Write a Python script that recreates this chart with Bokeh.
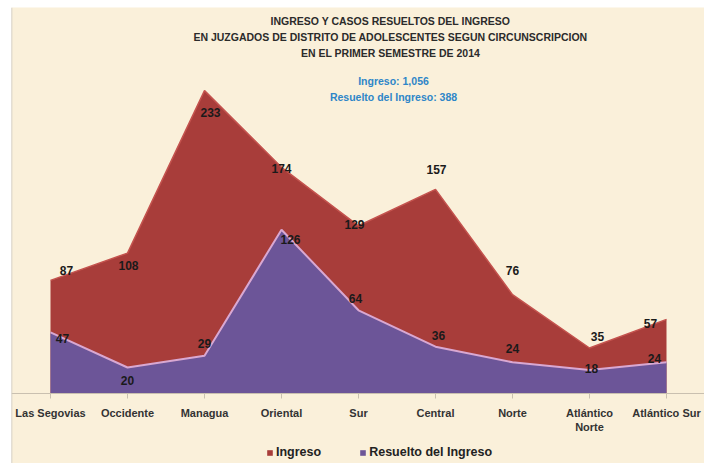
from bokeh.plotting import figure
from bokeh.models import (ColumnDataSource, Range1d, FixedTicker, Legend, LegendItem,
                          LinearAxis, Span)
from bokeh.core.properties import value
from bokeh.embed import file_html
from bokeh.resources import INLINE

# ---- data ----
categories = ["Las Segovias", "Occidente", "Managua", "Oriental", "Sur",
              "Central", "Norte", "Atlántico\nNorte", "Atlántico Sur"]
ingreso = [87, 108, 233, 174, 129, 157, 76, 35, 57]
resuelto = [47, 20, 29, 126, 64, 36, 24, 18, 24]
title_lines = ["INGRESO Y CASOS RESUELTOS DEL INGRESO",
               "EN JUZGADOS DE DISTRITO DE ADOLESCENTES SEGUN CIRCUNSCRIPCION",
               "EN EL PRIMER SEMESTRE DE 2014"]
subtitle_lines = ["Ingreso: 1,056", "Resuelto del Ingreso: 388"]

# ---- label offsets (style, pixels) ----
ing_dx = [16, 1, 6, 0, -4, 1, 0, 8, -16]
ing_dy = [-10, 12, 22, 1, -1, -20, -24, -12, 4]
res_dx = [12, 0, 0, 9, -3, 3, 0, 2, -12]
res_dy = [6, 13, -12, 10, -12, -11, -14, -2, -4]

BG = "#FAF0DA"
RED = "#A83D3A"
PURPLE = "#6C5598"
FONT = "'Liberation Sans', Arial, sans-serif"

W, H = 704, 463
LEFT, TOP = 11, 7               # white border of the picture
PX_X, PX_Y = 77.0, 1.3          # pixels per unit
X0, BASE = 50.0, 393.0          # pixel of first category / baseline


def dx(px):
    return (px - X0) / PX_X


def dy(py):
    return (BASE - py) / PX_Y


xs = list(range(len(categories)))
src = ColumnDataSource(dict(x=xs, ing=ingreso, res=resuelto,
                            ing_t=[str(v) for v in ingreso],
                            res_t=[str(v) for v in resuelto],
                            idx=ing_dx, idy=ing_dy, rdx=res_dx, rdy=res_dy))

p = figure(width=W, height=H, output_backend="svg", toolbar_location=None,
           x_axis_location=None, y_axis_location=None,
           x_range=Range1d(dx(LEFT), dx(W)),
           y_range=Range1d(dy(H), dy(TOP)),
           background_fill_color=BG, border_fill_color="white",
           min_border_left=LEFT, min_border_right=0, min_border_top=TOP,
           min_border_bottom=0)
p.outline_line_color = None
p.grid.visible = False
p.add_layout(Span(location=dx(LEFT), dimension="height",
                  line_color="#C9C5BE", line_width=1.5))

r1 = p.varea(x="x", y1=0, y2="ing", source=src, fill_color=RED)
p.line(x="x", y="ing", source=src, line_color="#C4534E", line_width=1.5)
r2 = p.varea(x="x", y1=0, y2="res", source=src, fill_color=PURPLE)
p.line(x="x", y="res", source=src, line_color="#D9A8D2", line_width=2)

lbl = dict(text_font=value(FONT), text_font_style="bold", text_font_size="12px",
           text_color="#1a1a1a", text_align="center", text_baseline="middle")
p.text(x="x", y="ing", text="ing_t", x_offset="idx", y_offset="idy", source=src, **lbl)
p.text(x="x", y="res", text="res_t", x_offset="rdx", y_offset="rdy", source=src, **lbl)

for i, t in enumerate(title_lines):
    p.text(x=[dx(390)], y=[dy(20 + 16 * i)], text=[t],
           text_font=value(FONT), text_font_style="bold", text_font_size="10.5px",
           text_color="#2b2b2b", text_align="center", text_baseline="middle")
for i, t in enumerate(subtitle_lines):
    p.text(x=[dx(393)], y=[dy(80 + 16 * i)], text=[t],
           text_font=value(FONT), text_font_style="bold", text_font_size="10.5px",
           text_color="#2E86C8", text_align="center", text_baseline="middle")

ax = LinearAxis(fixed_location=0)
ax.ticker = FixedTicker(ticks=xs)
ax.major_label_overrides = {i: c for i, c in enumerate(categories)}
ax.major_label_text_font = FONT
ax.major_label_text_font_style = "bold"
ax.major_label_text_font_size = "11px"
ax.major_label_text_color = "#333333"
ax.axis_line_color = "#C9C0B0"
ax.major_tick_line_color = "#C9C0B0"
ax.major_tick_out = 5
ax.major_tick_in = 0
ax.minor_tick_line_color = None
ax.major_label_standoff = 8
p.add_layout(ax, "below")

legend = Legend(items=[LegendItem(label="Ingreso", renderers=[r1]),
                       LegendItem(label="Resuelto del Ingreso", renderers=[r2])],
                orientation="horizontal", location=(255, 4),
                background_fill_alpha=0, border_line_color=None,
                glyph_width=7, glyph_height=7, label_height=14,
                label_standoff=3, spacing=38, padding=2, margin=0,
                label_text_font=FONT, label_text_font_style="bold",
                label_text_font_size="12.5px", label_text_color="#222222")
p.add_layout(legend, "center")

open("out.html", "w").write(file_html(p, INLINE))
